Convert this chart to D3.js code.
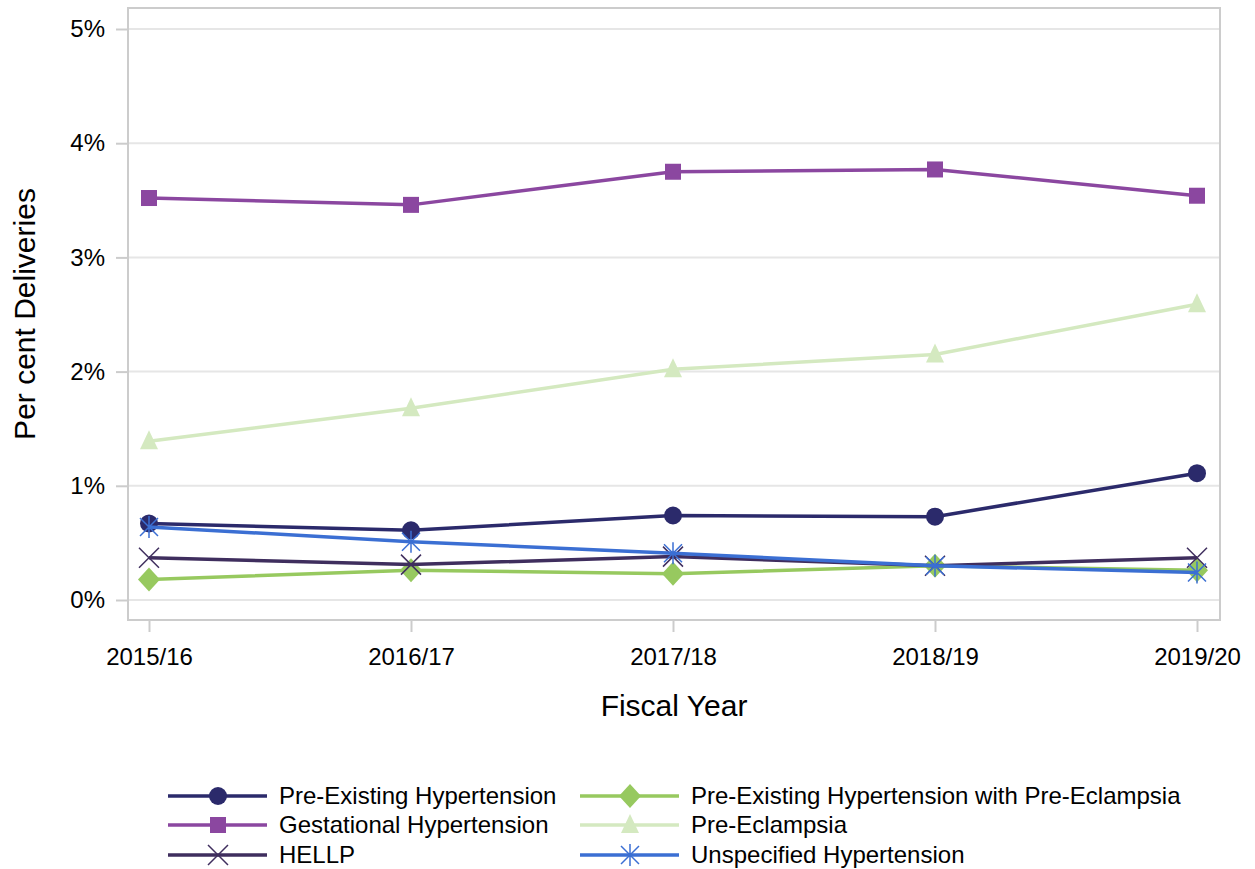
<!DOCTYPE html>
<html>
<head>
<meta charset="utf-8">
<script src="https://cdn.jsdelivr.net/npm/d3@7"></script>
<style>
  body { margin: 0; background: #fff; }
  text { font-family: "Liberation Sans", Arial, sans-serif; fill: #000; }
</style>
</head>
<body>
<div id="chart"></div>
<script>
// data
var years = ["2015/16", "2016/17", "2017/18", "2018/19", "2019/20"];
var yTicks = [0, 1, 2, 3, 4, 5];

var preExisting   = [0.67, 0.61, 0.74, 0.73, 1.11];
var gestational   = [3.52, 3.46, 3.75, 3.77, 3.54];
var hellp         = [0.37, 0.31, 0.38, 0.30, 0.37];
var preExistingPE = [0.18, 0.26, 0.23, 0.30, 0.26];
var preEclampsia  = [1.39, 1.68, 2.02, 2.15, 2.59];
var unspecified   = [0.64, 0.51, 0.41, 0.30, 0.24];

var seriesNames = ["Pre-Existing Hypertension", "Gestational Hypertension", "HELLP",
                   "Pre-Existing Hypertension with Pre-Eclampsia", "Pre-Eclampsia", "Unspecified Hypertension"];
var seriesValues = [preExisting, gestational, hellp, preExistingPE, preEclampsia, unspecified];
var colors = ["#2b2a6b", "#8b47a0", "#3f2e5e", "#97c95f", "#d4e9c0", "#3b6fd3"];
var symbols = ["circle", "square", "x", "diamond", "triangle", "asterisk"];
// drawing order (back to front)
var drawOrder = [1, 4, 0, 3, 2, 5];

var svgWidth = 1255;
var svgHeight = 869;
var frame = {left: 128, right: 1220, top: 8, bottom: 620};

var svg = d3.select("#chart")
    .append("svg")
    .attr("width", svgWidth)
    .attr("height", svgHeight);

var x = d3.scalePoint()
    .domain(years)
    .range([149, 1197]);

var y = d3.scaleLinear()
    .domain([0, 5])
    .range([600, 29]);

// gridlines
svg.append("g")
    .selectAll("line")
    .data(yTicks)
    .enter()
    .append("line")
    .attr("x1", frame.left)
    .attr("x2", frame.right)
    .attr("y1", d => y(d))
    .attr("y2", d => y(d))
    .attr("stroke", "#e6e6e6")
    .attr("stroke-width", 2);

// frame
svg.append("rect")
    .attr("x", frame.left)
    .attr("y", frame.top)
    .attr("width", frame.right - frame.left)
    .attr("height", frame.bottom - frame.top)
    .attr("fill", "none")
    .attr("stroke", "#cccccc")
    .attr("stroke-width", 2);

// y axis
var yAxis = svg.append("g")
    .attr("transform", `translate(${frame.left},0)`)
    .call(d3.axisLeft(y).tickValues(yTicks).tickSize(12).tickPadding(11).tickFormat(d => d + "%"));
yAxis.select(".domain").remove();
yAxis.selectAll(".tick line").attr("stroke", "#cccccc").attr("stroke-width", 2);
yAxis.selectAll(".tick text").attr("font-size", "24px").attr("font-family", "Liberation Sans, Arial, sans-serif");

// x axis
var xAxis = svg.append("g")
    .attr("transform", `translate(0,${frame.bottom})`)
    .call(d3.axisBottom(x).tickSize(12).tickPadding(16));
xAxis.select(".domain").remove();
xAxis.selectAll(".tick line").attr("stroke", "#cccccc").attr("stroke-width", 2);
xAxis.selectAll(".tick text").attr("font-size", "24px").attr("font-family", "Liberation Sans, Arial, sans-serif");

// axis titles
svg.append("text")
    .attr("x", (frame.left + frame.right) / 2)
    .attr("y", 716)
    .attr("text-anchor", "middle")
    .attr("font-size", "30px")
    .text("Fiscal Year");

svg.append("text")
    .attr("transform", `translate(35,${(frame.top + frame.bottom) / 2}) rotate(-90)`)
    .attr("text-anchor", "middle")
    .attr("font-size", "30px")
    .text("Per cent Deliveries");

// marker drawing
function drawMarker(g, type, color, cx, cy) {
    if (type === "circle") {
        g.append("circle").attr("cx", cx).attr("cy", cy).attr("r", 9).attr("fill", color);
    } else if (type === "square") {
        g.append("rect").attr("x", cx - 8).attr("y", cy - 8).attr("width", 16).attr("height", 16).attr("fill", color);
    } else if (type === "diamond") {
        g.append("path").attr("d", `M${cx},${cy - 12}L${cx + 11},${cy}L${cx},${cy + 12}L${cx - 11},${cy}Z`).attr("fill", color);
    } else if (type === "triangle") {
        g.append("path").attr("d", `M${cx},${cy - 11}L${cx + 9},${cy + 8}L${cx - 9},${cy + 8}Z`).attr("fill", color);
    } else if (type === "x") {
        g.append("path").attr("d", `M${cx - 10},${cy - 10}L${cx + 10},${cy + 10}M${cx - 10},${cy + 10}L${cx + 10},${cy - 10}`)
            .attr("stroke", color).attr("stroke-width", 1.5).attr("fill", "none");
    } else if (type === "asterisk") {
        g.append("path").attr("d", `M${cx},${cy - 11}L${cx},${cy + 11}M${cx - 9},${cy - 9}L${cx + 9},${cy + 9}M${cx - 9},${cy + 9}L${cx + 9},${cy - 9}`)
            .attr("stroke", color).attr("stroke-width", 1.5).attr("fill", "none");
    }
}

var line = d3.line()
    .x((d, i) => x(years[i]))
    .y(d => y(d));

var plot = svg.append("g");
drawOrder.forEach(function(s) {
    var g = plot.append("g");
    g.append("path")
        .attr("d", line(seriesValues[s]))
        .attr("fill", "none")
        .attr("stroke", colors[s])
        .attr("stroke-width", 3.5);
    seriesValues[s].forEach(function(v, i) {
        drawMarker(g, symbols[s], colors[s], x(years[i]), y(v));
    });
});

// legend
var legendCols = [168, 580];
var legendRows = [796, 825, 855];
var legend = svg.append("g");
seriesNames.forEach(function(name, s) {
    var col = Math.floor(s / 3);
    var row = s % 3;
    var lx = legendCols[col];
    var ly = legendRows[row];
    var g = legend.append("g");
    g.append("line")
        .attr("x1", lx).attr("x2", lx + 99)
        .attr("y1", ly).attr("y2", ly)
        .attr("stroke", colors[s])
        .attr("stroke-width", 3.5);
    drawMarker(g, symbols[s], colors[s], lx + 50, ly);
    g.append("text")
        .attr("x", lx + 111)
        .attr("y", ly + 8)
        .attr("font-size", "24px")
        .text(name);
});
</script>
</body>
</html>
